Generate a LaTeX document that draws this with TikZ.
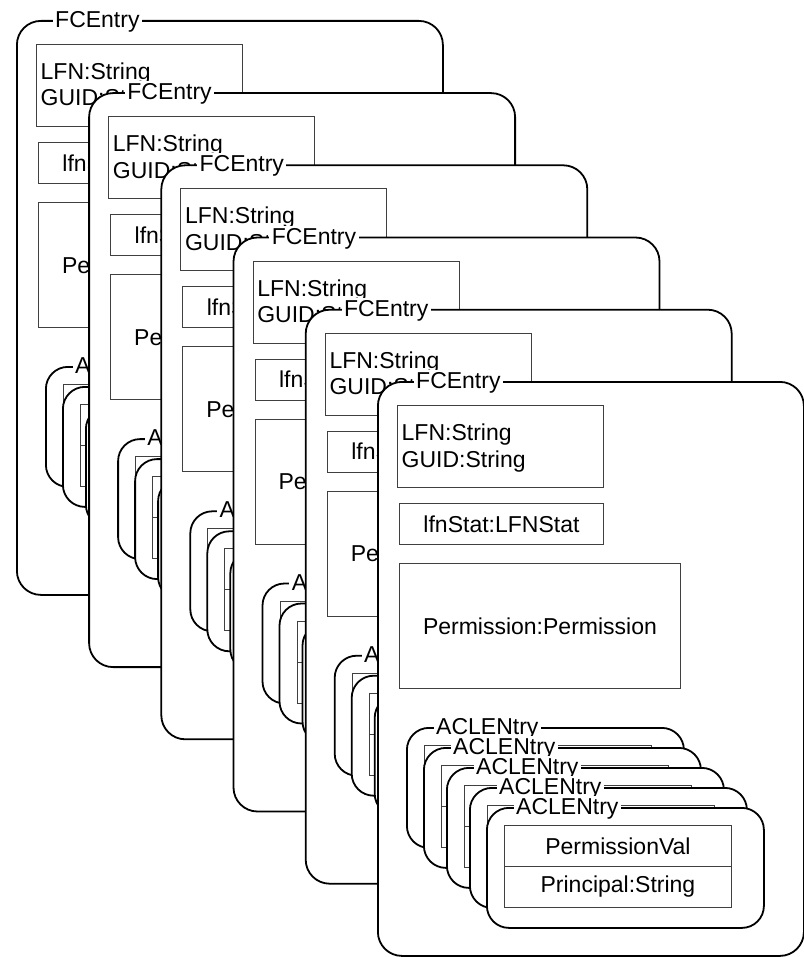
\documentclass[tikz,border=0pt]{standalone}
\usepackage{fontspec}
\setmainfont{Liberation Sans}
\newcommand\lblfont{\fontsize{23}{27}\selectfont}
\begin{document}
\begin{tikzpicture}[x=1pt, y=-1pt,
  fcframe/.style={draw=black, line width=1.8pt, fill=white, rounded corners=24pt,
    rectangle, inner sep=0pt, anchor=north west, minimum width=426pt, minimum height=574pt},
  aclframe/.style={draw=black, line width=1.8pt, fill=white, rounded corners=22pt,
    rectangle, inner sep=0pt, anchor=north west, minimum width=277pt, minimum height=120pt},
  field/.style={draw=black!75, line width=0.9pt, fill=white, rectangle, inner sep=0pt,
    anchor=north west, font=\lblfont},
  frametitle/.style={fill=white, inner sep=2.5pt, anchor=base west, font=\lblfont},
  fieldtext/.style={inner sep=0pt, anchor=base west, font=\lblfont}]
\useasboundingbox (0,0) rectangle (803,957);

% six stacked FCEntry frames, each drawn over the previous one
\foreach \i in {0,...,5} {
  \begin{scope}[shift={(16+72.2*\i, 20+72.2*\i)}]
    \node[fcframe] (fc\i) at (0,0) {};
    \node[frametitle] (fct\i) at (36.5,7.5) {FCEntry};
    % attribute boxes
    \node[field, minimum width=206pt, minimum height=82pt] (lfn\i) at (20,24) {};
    \node[fieldtext] (lfnA\i) at (24.5,59.5) {LFN:String};
    \node[fieldtext] (lfnB\i) at (24.5,86) {GUID:String};
    \node[field, minimum width=204pt, minimum height=41pt] (stat\i) at (22,122) {lfnStat:LFNStat};
    \node[field, minimum width=281pt, minimum height=125pt] (perm\i) at (22,182) {Permission:Permission};
    % stack of ACL entries
    \foreach \j/\dx/\dy in {0/0/0, 1/17/20, 2/40/40, 3/63/60, 4/80/80} {
      \begin{scope}[shift={(29+\dx, 346+\dy)}]
        \node[aclframe] (acl\i-\j) at (0,0) {};
        \node[frametitle] (aclt\i-\j) at (27.5,7.5) {ACLENtry};
        \node[field, minimum width=227pt, minimum height=41pt] (pv\i-\j) at (18,18) {PermissionVal};
        \node[field, minimum width=227pt, minimum height=41pt] (pr\i-\j) at (18,59) {Principal:String};
      \end{scope}
    }
  \end{scope}
}
\end{tikzpicture}
\end{document}
